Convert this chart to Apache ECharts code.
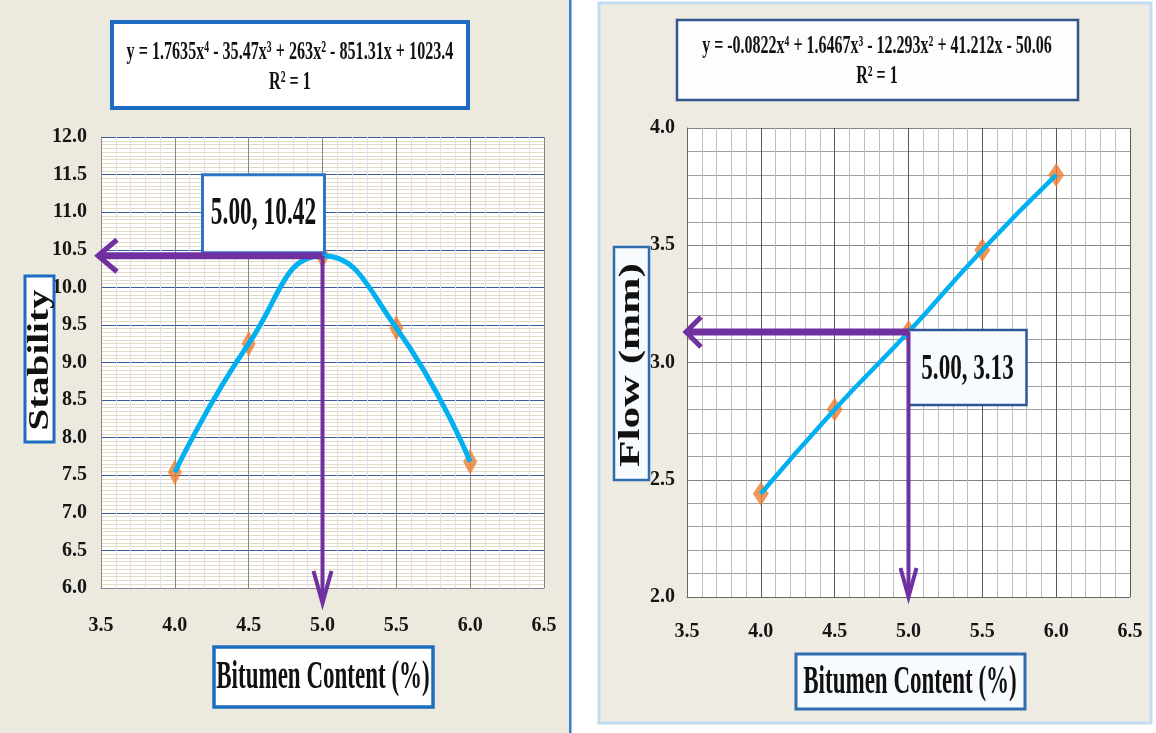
<!DOCTYPE html>
<html>
<head>
<meta charset="utf-8">
<script src="https://cdn.jsdelivr.net/npm/echarts@6/dist/echarts.min.js"></script>
<style>
  html, body { margin: 0; padding: 0; background: #ffffff; }
  #chart { width: 1156px; height: 733px; }
</style>
</head>
<body>
<div id="chart"></div>
<script>
// ---------------- DATA ----------------
const bitumenContent = [4.0, 4.5, 5.0, 5.5, 6.0];
const stabilityValues = [7.54, 9.25, 10.42, 9.46, 7.68];
const flowValues = [2.44, 2.80, 3.13, 3.48, 3.80];

const bitumenTicks = [3.5, 4.0, 4.5, 5.0, 5.5, 6.0, 6.5];
const stabilityTicks = [6.0, 6.5, 7.0, 7.5, 8.0, 8.5, 9.0, 9.5, 10.0, 10.5, 11.0, 11.5, 12.0];
const flowTicks = [2.0, 2.5, 3.0, 3.5, 4.0];

const stabilityPick = [5.00, 10.42];
const flowPick = [5.00, 3.13];

const stabilityEquation = 'y = 1.7635x⁴ - 35.47x³ + 263x² - 851.31x + 1023.4';
const flowEquation = 'y = -0.0822x⁴ + 1.6467x³ - 12.293x² + 41.212x - 50.06';
const rSquaredText = 'R² = 1';
const xTitle = 'Bitumen Content (%)';
const stabilityTitle = 'Stability';
const flowTitle = 'Flow (mm)';

// ---------------- HELPERS ----------------
const FONT = '"Liberation Serif", "Times New Roman", serif';
const PURPLE = '#7030A0';

function pairs(xs, ys) { return xs.map((x, i) => [x, ys[i]]); }

function boxEl(x, y, w, h, fill, stroke, lw) {
  return { type: 'rect', z: 10, silent: true, shape: { x: x, y: y, width: w, height: h },
           style: { fill: fill, stroke: stroke, lineWidth: lw } };
}
function textEl(x, y, text, size, sx, rot) {
  return { type: 'text', z: 11, silent: true, x: x, y: y, rotation: rot || 0, scaleX: sx,
           style: { text: text, fontFamily: FONT, fontSize: size, fontWeight: 'bold', fill: '#111',
                    align: 'center', verticalAlign: 'middle', textAlign: 'center', textVerticalAlign: 'middle' } };
}

function pickRenderer(s) {
  return function (params, api) {
    const vx = api.value(0), vy = api.value(1);
    const p = api.coord([vx, vy]);
    const o = api.coord([s.xMin, s.yMin]);
    const hx = o[0] - s.hTipOut;
    const vyTip = o[1] + s.vTipOut;
    const label = vx.toFixed(2) + ', ' + vy.toFixed(2);
    const bx = s.boxRight ? p[0] + s.boxDx - s.boxW : p[0] + s.boxDx;
    const by = s.boxAbove ? p[1] + s.boxDy - s.boxH : p[1] + s.boxDy;
    const lineStyle = (w) => ({ stroke: PURPLE, lineWidth: w, fill: null, lineJoin: 'miter', lineCap: 'butt' });
    return {
      type: 'group',
      children: [
        { type: 'rect', shape: { x: bx, y: by, width: s.boxW, height: s.boxH },
          style: { fill: s.boxFill, stroke: s.boxStroke, lineWidth: s.boxLw } },
        { type: 'text', x: bx + s.boxW / 2, y: by + s.boxH / 2 + s.textDy, scaleX: s.textScale,
          style: { text: label, fontFamily: FONT, fontSize: s.textSize, fontWeight: 'bold', fill: '#111',
                   align: 'center', verticalAlign: 'middle', textAlign: 'center', textVerticalAlign: 'middle' } },
        { type: 'polyline', shape: { points: [[p[0], p[1]], [hx + 3, p[1]]] }, style: lineStyle(s.hWidth) },
        { type: 'polyline', shape: { points: [[hx + s.hBack, p[1] - s.hHalf], [hx, p[1]], [hx + s.hBack, p[1] + s.hHalf]] },
          style: lineStyle(s.hHeadW) },
        { type: 'polyline', shape: { points: [[p[0], p[1]], [p[0], vyTip - 3]] }, style: lineStyle(s.vWidth) },
        { type: 'polyline', shape: { points: [[p[0] - s.vHalf, vyTip - s.vBack], [p[0], vyTip], [p[0] + s.vHalf, vyTip - s.vBack]] },
          style: lineStyle(s.vHeadW) }
      ]
    };
  };
}

const labelStyle = { fontFamily: FONT, fontWeight: 'bold', fontSize: 20, color: '#151515' };

function valueAxis(ticks, gridIndex, opts) {
  return {
    type: 'value', gridIndex: gridIndex,
    min: ticks[0], max: ticks[ticks.length - 1], interval: ticks[1] - ticks[0],
    axisLine: { show: true, lineStyle: { color: opts.axisColor, width: 1 } },
    axisTick: { show: false },
    axisLabel: Object.assign({ margin: opts.margin, formatter: (v) => v.toFixed(1) }, labelStyle),
    splitLine: { show: true, lineStyle: { color: opts.major, width: opts.majorW || 1 } },
    minorTick: { show: false, splitNumber: opts.minorN },
    minorSplitLine: { show: true, lineStyle: { color: opts.minor, width: 1 } }
  };
}

// ---------------- CHART ----------------
const chart = echarts.init(document.getElementById('chart'), null, { renderer: 'canvas' });

const option = {
  animation: false,
  backgroundColor: '#ffffff',
  grid: [
    { left: 101, top: 137, width: 443, height: 451, show: true, backgroundColor: '#ffffff', borderWidth: 0 },
    { left: 687, top: 128, width: 443, height: 469, show: true, backgroundColor: '#ffffff', borderWidth: 0 }
  ],
  xAxis: [
    valueAxis(bitumenTicks, 0, { axisColor: '#8a8a8a', margin: 28, major: '#858585', minor: '#e3ddf2', minorN: 5 }),
    valueAxis(bitumenTicks, 1, { axisColor: '#666', margin: 25, major: '#5a5a5a', minor: '#bdbdbd', minorN: 5 })
  ],
  yAxis: [
    valueAxis(stabilityTicks, 0, { axisColor: '#8a8a8a', margin: 14, major: '#3a5c9c', minor: '#e2dbc6', minorN: 10 }),
    valueAxis(flowTicks, 1, { axisColor: '#666', margin: 12, major: '#858585', minor: '#a0a0a0', minorN: 5 })
  ],
  graphic: [
    { type: 'rect', z: -10, silent: true, shape: { x: 0, y: 0, width: 570, height: 733 }, style: { fill: '#ECE9DF' } },
    { type: 'rect', z: -10, silent: true, shape: { x: 569, y: 0, width: 2.5, height: 733 }, style: { fill: '#3C7FC4' } },
    { type: 'rect', z: -10, silent: true, shape: { x: 599, y: 3, width: 552, height: 720 },
      style: { fill: '#EEEBE3', stroke: '#C3DBEF', lineWidth: 3 } },
    boxEl(112, 22, 356, 86, '#ffffff', '#1C6DC1', 4),
    textEl(290, 52, stabilityEquation, 26, 0.62),
    textEl(290, 82, rSquaredText, 26, 0.62),
    boxEl(677, 20, 401, 80, '#FBFDFF', '#34558B', 2.5),
    textEl(877, 47, flowEquation, 25, 0.64),
    textEl(877, 77, rSquaredText, 25, 0.64),
    boxEl(214, 647, 219, 60, '#ffffff', '#1C6DC1', 3.5),
    textEl(323, 678, xTitle, 39, 0.59),
    boxEl(796, 654, 229, 55, '#F8FBFE', '#2E6DB0', 3),
    textEl(910, 683, xTitle, 39, 0.59),
    boxEl(25, 276, 29, 166, '#ffffff', '#1C6DC1', 3),
    textEl(40, 360, stabilityTitle, 30, 1.3, Math.PI / 2),
    boxEl(614, 247, 35, 233, '#F8FBFE', '#2E6DB0', 2.5),
    textEl(632, 365, flowTitle, 29, 1.5, Math.PI / 2)
  ],
  series: [
    { type: 'scatter', xAxisIndex: 0, yAxisIndex: 0, z: 2, silent: true,
      data: pairs(bitumenContent, stabilityValues),
      symbol: 'diamond', symbolSize: [14, 26], itemStyle: { color: '#ED7D31' } },
    { type: 'line', xAxisIndex: 0, yAxisIndex: 0, z: 3, silent: true, smooth: 0.5,
      data: pairs(bitumenContent, stabilityValues), showSymbol: false, symbol: 'none',
      lineStyle: { color: '#00B0F0', width: 5 } },
    { type: 'custom', xAxisIndex: 0, yAxisIndex: 0, z: 5, silent: true, clip: false,
      data: [stabilityPick],
      renderItem: pickRenderer({
        xMin: bitumenTicks[0], yMin: stabilityTicks[0], hTipOut: 3, vTipOut: 15,
        hWidth: 7, hHeadW: 5, hBack: 19, hHalf: 16,
        vWidth: 4, vHeadW: 4, vBack: 32, vHalf: 9,
        boxRight: true, boxAbove: true, boxDx: 2, boxDy: -3, boxW: 122, boxH: 78,
        boxFill: '#ffffff', boxStroke: '#2E75C6', boxLw: 3,
        textSize: 39, textScale: 0.6, textDy: 0
      }) },
    { type: 'scatter', xAxisIndex: 1, yAxisIndex: 1, z: 2, silent: true,
      data: pairs(bitumenContent, flowValues),
      symbol: 'diamond', symbolSize: [16, 24], itemStyle: { color: '#ED7D31' } },
    { type: 'line', xAxisIndex: 1, yAxisIndex: 1, z: 3, silent: true, smooth: true,
      data: pairs(bitumenContent, flowValues), showSymbol: false, symbol: 'none',
      lineStyle: { color: '#00B0F0', width: 4.5 } },
    { type: 'custom', xAxisIndex: 1, yAxisIndex: 1, z: 5, silent: true, clip: false,
      data: [flowPick],
      renderItem: pickRenderer({
        xMin: bitumenTicks[0], yMin: flowTicks[0], hTipOut: 1, vTipOut: 0,
        hWidth: 7, hHeadW: 5, hBack: 15, hHalf: 15,
        vWidth: 4, vHeadW: 4, vBack: 29, vHalf: 8,
        boxRight: false, boxAbove: false, boxDx: 0, boxDy: -2, boxW: 118, boxH: 75,
        boxFill: '#F8FBFE', boxStroke: '#2F5597', boxLw: 2.5,
        textSize: 35, textScale: 0.66, textDy: 2
      }) }
  ]
};

chart.setOption(option);
</script>
</body>
</html>
